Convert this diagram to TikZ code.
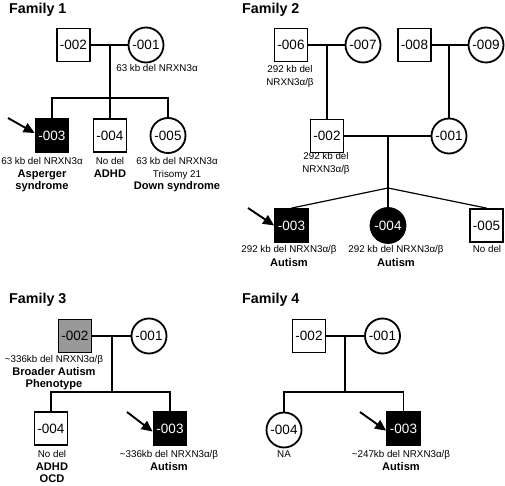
\documentclass[tikz,border=0pt]{standalone}
\usepackage{fontspec}
\setmainfont{Liberation Sans}
\usetikzlibrary{arrows.meta}

\newcommand{\phen}[1]{{\fontsize{11.1}{13}\selectfont\bfseries #1}}

\begin{document}
\begin{tikzpicture}[x=1pt,y=-1pt,
    male/.style={draw,line width=1.8pt,minimum size=33pt,inner sep=0pt,font=\fontsize{13.5}{13.5}\selectfont},
    female/.style={male,circle,minimum size=35pt},
    affected/.style={fill=black,text=white},
    carrier/.style={fill=black!40},
    line/.style={line width=1.2pt},
    info/.style={align=center,inner sep=0pt,anchor=north,font=\fontsize{9.8}{12.5}\selectfont},
    title/.style={anchor=west,inner sep=0pt,font=\bfseries\fontsize{14.3}{14.3}\selectfont},
    proband/.style={line width=1.9pt,-{Triangle[length=11pt,width=10pt]}}]
    \useasboundingbox (0,0) rectangle (505,486);

    % Family 1
    \node[title] (t1) at (9,9.5) {Family 1};
    \node[male] (a002) at (73.5,45) {-002};
    \node[female] (a001) at (146,45) {-001};
    \node[male,affected] (a003) at (52,135.5) {-003};
    \node[male] (a004) at (110,135.5) {-004};
    \node[female] (a005) at (168,135.5) {-005};
    \coordinate (am) at (110,45);
    \coordinate (as) at (110,98);
    \coordinate (aarr) at (8,118);

    \path[line] (a002) edge (a001);
    \draw[line] (am) -- (as) -- (a004);
    \draw[line] (a003) |- (as) -| (a005);
    \draw[proband] (aarr) -- (a003.172);

    \node[info] (la001) at (157,64.5) {63 kb del NRXN3α};
    \node[info] (la003) at (42,157.5) {63 kb del NRXN3α\\\phen{Asperger}\\\phen{syndrome}};
    \node[info] (la004) at (110,157.5) {No del\\\phen{ADHD}};
    \node[info] (la005) at (177,157.5) {63 kb del NRXN3α\\Trisomy 21\\\phen{Down syndrome}};

    % Family 2
    \node[title] (t2) at (242,9.5) {Family 2};
    \node[male] (b006) at (291,45) {-006};
    \node[female] (b007) at (363,45) {-007};
    \node[male] (b008) at (414.5,45) {-008};
    \node[female] (b009) at (486,45) {-009};
    \node[male] (b002) at (327,136) {-002};
    \node[female] (b001) at (449,136) {-001};
    \node[male,affected] (b003) at (291.5,225.5) {-003};
    \node[female,affected] (b004) at (388,225.5) {-004};
    \node[male] (b005) at (486.5,225.5) {-005};
    \coordinate (bm1) at (327,45);
    \coordinate (bm2) at (449,45);
    \coordinate (bm) at (388,136);
    \coordinate (bs) at (388,188);
    \coordinate (barr) at (248,208);

    \path[line] (b006) edge (b007);
    \path[line] (b008) edge (b009);
    \path[line] (bm1) edge (b002);
    \path[line] (bm2) edge (b001);
    \path[line] (b002) edge (b001);
    \draw[line] (bm) -- (bs) -- (b004);
    \draw[line] (bs) -- (b003.north);
    \draw[line] (bs) -- (b005.north);
    \draw[proband] (barr) -- (b003.west);

    \node[info] (lb006) at (290,65.5) {292 kb del\\NRXN3α/β};
    \node[info] (lb002) at (326,152.5) {292 kb del\\NRXN3α/β};
    \node[info] (lb003) at (289,245.5) {292 kb del NRXN3α/β\\[1.5pt]\phen{Autism}};
    \node[info] (lb004) at (396,245.5) {292 kb del NRXN3α/β\\[1.5pt]\phen{Autism}};
    \node[info] (lb005) at (487,245.5) {No del};

    % Family 3
    \node[title] (t3) at (9,300) {Family 3};
    \node[male,carrier] (c002) at (75,336) {-002};
    \node[female] (c001) at (149,336) {-001};
    \node[male] (c004) at (51,428.5) {-004};
    \node[male,affected] (c003) at (170,428.5) {-003};
    \coordinate (cm) at (112,336);
    \coordinate (cs) at (112,392);
    \coordinate (carr) at (127,412);

    \path[line] (c002) edge (c001);
    \draw[line] (cm) -- (cs);
    \draw[line] (c004) |- (cs) -| (c003);
    \draw[proband] (carr) -- (c003.190);

    \node[info] (lc002) at (54,355.5) {\textasciitilde336kb del NRXN3α/β\\\phen{Broader Autism}\\\phen{Phenotype}};
    \node[info] (lc004) at (52,450.5) {No del\\\phen{ADHD}\\\phen{OCD}};
    \node[info] (lc003) at (169,450.5) {\textasciitilde336kb del NRXN3α/β\\\phen{Autism}};

    % Family 4
    \node[title] (t4) at (242,300) {Family 4};
    \node[male] (d002) at (309,336) {-002};
    \node[female] (d001) at (382.5,336) {-001};
    \node[female] (d004) at (284,430) {-004};
    \node[male,affected] (d003) at (403.5,428.5) {-003};
    \coordinate (dm) at (345,336);
    \coordinate (ds) at (345,392);
    \coordinate (darr) at (360,412);

    \path[line] (d002) edge (d001);
    \draw[line] (dm) -- (ds);
    \draw[line] (d004) |- (ds) -| (d003);
    \draw[proband] (darr) -- (d003.187);

    \node[info] (ld004) at (284,450.5) {NA};
    \node[info] (ld003) at (401,450.5) {\textasciitilde247kb del NRXN3α/β\\\phen{Autism}};
\end{tikzpicture}
\end{document}
